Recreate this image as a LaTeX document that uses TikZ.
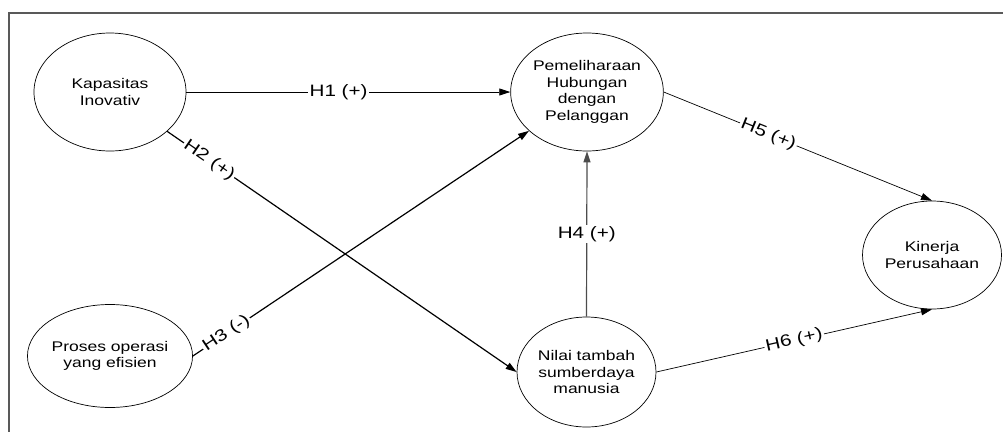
\documentclass[tikz,border=0pt]{standalone}
\usepackage{fontspec}
\newfontfamily\arialx[FakeStretch=1.25]{Liberation Sans}
\usetikzlibrary{shapes.geometric,arrows.meta}
\begin{document}
\begin{tikzpicture}[x=1pt,y=-1pt,
  var/.style={ellipse,draw,line width=0.7pt,inner sep=0pt,align=center,
    font=\arialx\fontsize{14}{16.7}\selectfont},
  link/.style={line width=0.7pt,-{Triangle[length=11pt,width=7pt]}},
  heavy/.style={line width=1.2pt,-{Triangle[length=11pt,width=7pt]}},
  lab/.style={fill=white,text=black,inner sep=1.5pt,font=\arialx\fontsize{16.5}{19}\selectfont}]
\useasboundingbox (0,0) rectangle (1003,432);
\coordinate (tl) at (9,13);
\coordinate (tr) at (1003,13);
\coordinate (bl) at (9,432);
\draw[line width=2pt,black!65] (tr) -- (tl) -- (bl);
\node[var,minimum width=152pt,minimum height=118pt] (kap) at (110,92) {Kapasitas\\Inovativ};
\node[var,minimum width=150pt,minimum height=118pt] (pem) at (587,92) {Pemeliharaan\\Hubungan\\dengan\\Pelanggan};
\node[var,minimum width=139pt,minimum height=108pt] (kin) at (932,255) {Kinerja\\Perusahaan};
\node[var,minimum width=137pt,minimum height=103pt] (pro) at (110,356) {Proses operasi\\yang efisien};
\node[var,minimum width=139pt,minimum height=110pt] (nil) at (586.5,372) {Nilai tambah\\sumberdaya\\manusia};
\draw[link] (kap.east) -- node[lab,pos=0.47] {H1 (+)} (pem.west);
\draw[heavy] (kap) -- node[lab,pos=0.12,sloped] {H2 (+)} (nil.west);
\draw[heavy] (pro.east) -- node[lab,pos=0.10,sloped] {H3 (-)} (pem);
\draw[heavy,black!70] (nil.north) -- node[lab,pos=0.5] {H4 (+)} (pem.south);
\draw[link] (pem.east) -- node[lab,pos=0.39,sloped] {H5 (+)} (kin.north);
\draw[link] (nil.east) -- node[lab,pos=0.5,sloped] {H6 (+)} (kin.south);
\end{tikzpicture}
\end{document}
